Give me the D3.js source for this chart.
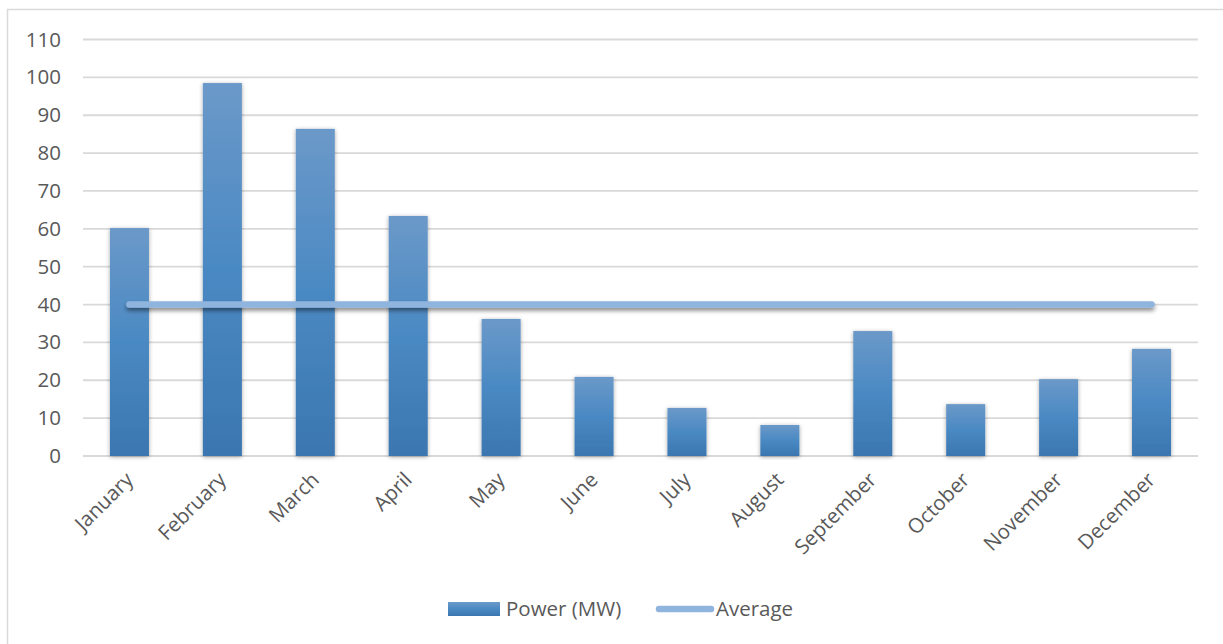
<!DOCTYPE html>
<html>
<head>
<meta charset="utf-8">
<script src="https://cdn.jsdelivr.net/npm/d3@7"></script>
<style>
  html, body { margin: 0; padding: 0; background: #fff; }
  svg { display: block; }
  text { font-family: "Open Sans", "Liberation Sans", sans-serif; fill: #595959; }
</style>
</head>
<body>
<svg id="chart" width="1223" height="644"></svg>
<script>
// Monthly power output and its yearly average
const months = ["January", "February", "March", "April", "May", "June",
                "July", "August", "September", "October", "November", "December"];
const power = [60.2, 98.5, 86.4, 63.4, 36.2, 20.9, 12.7, 8.2, 33.0, 13.7, 20.3, 28.3];
const average = [40, 40, 40, 40, 40, 40, 40, 40, 40, 40, 40, 40];
const yTicks = [0, 10, 20, 30, 40, 50, 60, 70, 80, 90, 100, 110];
const seriesNames = ["Power (MW)", "Average"];

const svg = d3.select("#chart");
const W = 1223, H = 644;
const margin = { left: 83, right: 25, top: 39.5, bottom: 188 };
const plotW = W - margin.left - margin.right;
const plotH = H - margin.top - margin.bottom;
const FONT = "20.5px";

const defs = svg.append("defs");
const grad = defs.append("linearGradient")
  .attr("id", "barFill").attr("x1", 0).attr("y1", 0).attr("x2", 0).attr("y2", 1);
grad.append("stop").attr("offset", "0%").attr("stop-color", "#6b99c9");
grad.append("stop").attr("offset", "50%").attr("stop-color", "#4a89c3");
grad.append("stop").attr("offset", "100%").attr("stop-color", "#3b76b0");

const shadow = defs.append("filter").attr("id", "barShadow")
  .attr("x", "-30%").attr("y", "-10%").attr("width", "160%").attr("height", "120%");
shadow.append("feDropShadow").attr("dx", 0).attr("dy", 1).attr("stdDeviation", 2.2)
  .attr("flood-color", "#000").attr("flood-opacity", 0.35);

// Line shadow uses user-space bounds since a flat line has zero-height bbox
const lineShadow = defs.append("filter").attr("id", "lineShadow")
  .attr("filterUnits", "userSpaceOnUse")
  .attr("x", -50).attr("y", -50).attr("width", W + 100).attr("height", H + 100);
lineShadow.append("feDropShadow").attr("dx", 0).attr("dy", 3).attr("stdDeviation", 2)
  .attr("flood-color", "#000").attr("flood-opacity", 0.45);

// Outer frame
svg.append("rect")
  .attr("x", 7.5).attr("y", 9.5).attr("width", W + 20).attr("height", H + 20)
  .attr("fill", "none").attr("stroke", "#d9d9d9").attr("stroke-width", 1.5);

const g = svg.append("g").attr("transform", `translate(${margin.left},${margin.top})`);

const x = d3.scaleBand().domain(months).range([0, plotW]).paddingInner(0.58).paddingOuter(0.29);
const xc = d3.scalePoint().domain(months).range([0, plotW]).padding(0.5);
const y = d3.scaleLinear().domain([0, 110]).range([plotH, 0]);

// Horizontal gridlines
g.append("g").selectAll("line").data(yTicks).join("line")
  .attr("x1", 0).attr("x2", plotW)
  .attr("y1", d => y(d)).attr("y2", d => y(d))
  .attr("stroke", "#d9d9d9").attr("stroke-width", 1.8);

// Y axis labels
const yAxis = g.append("g").call(d3.axisLeft(y).tickValues(yTicks).tickSize(0).tickPadding(22));
yAxis.select(".domain").remove();
yAxis.selectAll("text").style("font-size", FONT).attr("fill", "#595959")
  .style("font-family", "'Open Sans', sans-serif");

// Bars
g.append("g").selectAll("rect").data(power).join("rect")
  .attr("x", (d, i) => x(months[i]))
  .attr("width", x.bandwidth())
  .attr("y", d => y(d))
  .attr("height", d => y(0) - y(d))
  .attr("fill", "url(#barFill)")
  .attr("filter", "url(#barShadow)");

// Average line
const line = d3.line().x((d, i) => xc(months[i])).y(d => y(d));
g.append("path").datum(average)
  .attr("d", line)
  .attr("fill", "none").attr("stroke", "#8fb5df").attr("stroke-width", 6.5)
  .attr("stroke-linecap", "round")
  .attr("filter", "url(#lineShadow)");

// X axis labels, rotated
g.append("g").selectAll("text").data(months).join("text")
  .attr("transform", d => `translate(${xc(d) + 5},${plotH + 25}) rotate(-45)`)
  .attr("text-anchor", "end")
  .style("font-size", FONT)
  .text(d => d);

// Legend
const legend = svg.append("g");
legend.append("rect")
  .attr("x", 448).attr("y", 602).attr("width", 52).attr("height", 14)
  .attr("fill", "url(#barFill)");
legend.append("text").attr("x", 506).attr("y", 616).style("font-size", FONT).text(seriesNames[0]);
legend.append("line")
  .attr("x1", 659).attr("x2", 711).attr("y1", 609).attr("y2", 609)
  .attr("stroke", "#8fb5df").attr("stroke-width", 6.5).attr("stroke-linecap", "round");
legend.append("text").attr("x", 716).attr("y", 616).style("font-size", FONT).text(seriesNames[1]);
</script>
</body>
</html>
